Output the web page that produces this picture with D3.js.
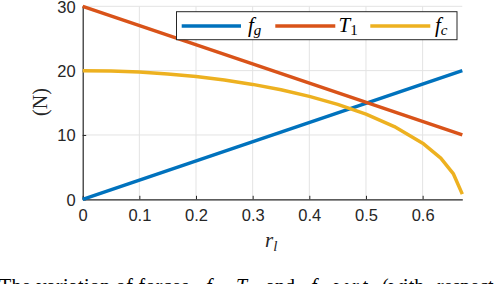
<!DOCTYPE html>
<html>
<head>
<meta charset="utf-8">
<script src="https://cdn.jsdelivr.net/npm/d3@7"></script>
<style>
  html, body { margin: 0; padding: 0; background: #fff; }
  svg { display: block; }
  .serif { font-family: "Liberation Serif", "Times New Roman", Times, "DejaVu Serif", serif; }
</style>
</head>
<body>
<script>
// ---- data ----
const xTicks = [0, 0.1, 0.2, 0.3, 0.4, 0.5, 0.6];
const yTicks = [0, 10, 20, 30];
const rLin = [0, 0.67];
const fgVals = [0, 20];
const T1Vals = [30, 10];
const rCurve = [0, 0.05, 0.1, 0.15, 0.2, 0.25, 0.3, 0.35, 0.4, 0.45, 0.5, 0.55, 0.6, 0.632, 0.654, 0.67];
const fcVals = [20, 19.94, 19.77, 19.49, 19.08, 18.54, 17.86, 17.02, 16.0, 14.76, 13.23, 11.3, 8.72, 6.4, 4.0, 0.8];

const W = 494, H = 284;
const svg = d3.select("body").append("svg").attr("width", W).attr("height", H);

const x = d3.scaleLinear().domain([0, 0.67]).range([82.7, 462.3]);
const y = d3.scaleLinear().domain([0, 30]).range([199.3, 6.3]);

const axisCol = "#262626";
const gridCol = "#e3e3e3";

// grid
svg.append("g").selectAll("line").data(xTicks.filter(d => d > 0)).join("line")
  .attr("x1", d => x(d)).attr("x2", d => x(d))
  .attr("y1", y(0)).attr("y2", y(30))
  .attr("stroke", gridCol).attr("stroke-width", 1);
svg.append("g").selectAll("line").data(yTicks.filter(d => d > 0)).join("line")
  .attr("x1", x(0)).attr("x2", x(0.67))
  .attr("y1", d => y(d)).attr("y2", d => y(d))
  .attr("stroke", gridCol).attr("stroke-width", 1);

// axes
const xAxis = d3.axisBottom(x).tickValues(xTicks).tickFormat(d => d === 0 ? "0" : d3.format(".1f")(d))
  .tickSizeInner(-3.5).tickSizeOuter(0).tickPadding(10);
const yAxis = d3.axisLeft(y).tickValues(yTicks).tickFormat(d3.format("d"))
  .tickSizeInner(-3.5).tickSizeOuter(0).tickPadding(7);

const gx = svg.append("g").attr("transform", `translate(0,${y(0)})`).call(xAxis);
const gy = svg.append("g").attr("transform", `translate(${x(0)},0)`).call(yAxis);
[gx, gy].forEach(g => {
  g.select(".domain").attr("stroke", axisCol).attr("stroke-width", 1.2);
  g.selectAll(".tick line").attr("stroke", axisCol).attr("stroke-width", 1);
  g.selectAll(".tick text").attr("fill", axisCol)
    .style("font-family", "'Liberation Sans', Arial, sans-serif").style("font-size", "16.5px");
});
gx.selectAll(".tick text").attr("dy", "0.71em");
gy.selectAll(".tick text").attr("dy", "0.35em");

// lines
const colors = { fg: "#0072BD", T1: "#D95319", fc: "#EDB120" };
const line = d3.line().x(d => x(d[0])).y(d => y(d[1]));
const plot = svg.append("g");
plot.append("path").datum(rLin.map((r, i) => [r, fgVals[i]])).attr("d", line)
  .attr("fill", "none").attr("stroke", colors.fg).attr("stroke-width", 3.5);
plot.append("path").datum(rLin.map((r, i) => [r, T1Vals[i]])).attr("d", line)
  .attr("fill", "none").attr("stroke", colors.T1).attr("stroke-width", 3.5);
plot.append("path").datum(rCurve.map((r, i) => [r, fcVals[i]])).attr("d", line)
  .attr("fill", "none").attr("stroke", colors.fc).attr("stroke-width", 3.5)
  .attr("stroke-linejoin", "round");

// y label
svg.append("text").attr("class", "serif")
  .attr("transform", "translate(40,102) rotate(-90)")
  .attr("text-anchor", "middle").attr("dominant-baseline", "central")
  .style("font-size", "20px")
  .attr("fill", axisCol).text("(N)");

// x label r_l
const xl = svg.append("text").attr("class", "serif").attr("x", 265).attr("y", 246.5)
  .style("font-style", "italic")
  .style("font-size", "21px").attr("fill", axisCol);
xl.append("tspan").text("r");
xl.append("tspan").attr("dy", 4).style("font-size", "15px").text("l");

// legend
const leg = svg.append("g");
leg.append("rect").attr("x", 176.5).attr("y", 11.7).attr("width", 280.5).attr("height", 28)
  .attr("fill", "#fff").attr("stroke", axisCol).attr("stroke-width", 1);
const legItems = [
  { c: colors.fg, x1: 181.7, x2: 241, tx: 248, main: "f", sub: "g" },
  { c: colors.T1, x1: 275.3, x2: 335.3, tx: 338.5, main: "T", sub: "1" },
  { c: colors.fc, x1: 370.3, x2: 430.3, tx: 435, main: "f", sub: "c" }
];
legItems.forEach(it => {
  leg.append("line").attr("x1", it.x1).attr("x2", it.x2).attr("y1", 26).attr("y2", 26)
    .attr("stroke", it.c).attr("stroke-width", 3.5);
  const t = leg.append("text").attr("class", "serif").attr("x", it.tx).attr("y", 31.7)
    .style("font-size", "21px").attr("fill", "#000");
  t.append("tspan").style("font-style", "italic").text(it.main);
  t.append("tspan").attr("dy", 3.5).style("font-size", "15px")
    .style("font-style", it.sub === "1" ? "normal" : "italic").text(it.sub);
});

// caption (cut off at bottom), pieces placed where they sit in the reference
const capY = 293;
const capParts = [
  { x: -1, main: "The variation of forces", it: false, len: 190 },
  { x: 206, main: "f", it: true, sub: "g", tail: "," },
  { x: 236, main: "T", it: true, sub: "1", tail: "" },
  { x: 266, main: "and", it: false },
  { x: 311, main: "f", it: true, sub: "c", tail: "" },
  { x: 334, main: "w.r.t.", it: false },
  { x: 382, main: "(with", it: false },
  { x: 437, main: "respect to", it: false }
];
capParts.forEach(p => {
  const t = svg.append("text").attr("class", "serif").attr("x", p.x).attr("y", capY)
    .style("font-size", "20px").attr("fill", "#000");
  if (p.len) t.attr("textLength", p.len).attr("lengthAdjust", "spacing");
  t.append("tspan").style("font-style", p.it ? "italic" : "normal").text(p.main);
  if (p.sub) {
    t.append("tspan").attr("dy", 3).style("font-size", "14px")
      .style("font-style", p.sub === "1" ? "normal" : "italic").text(p.sub);
    if (p.tail) t.append("tspan").attr("dy", -3).text(p.tail);
  }
});
</script>
</body>
</html>
